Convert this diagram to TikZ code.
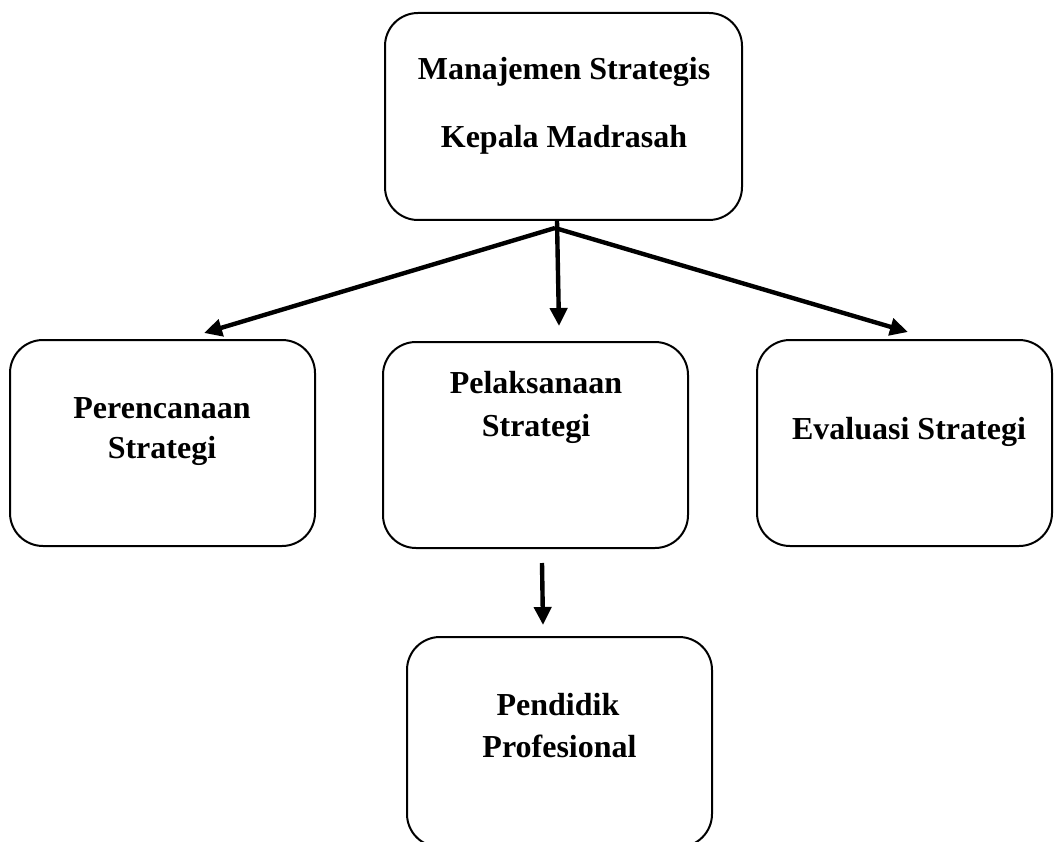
\documentclass[tikz,border=0pt]{standalone}
\usepackage{fontspec}
\setmainfont{Liberation Serif}
\usetikzlibrary{arrows.meta}
\begin{document}
\begin{tikzpicture}[x=1pt,y=-1pt,
  box/.style={draw, line width=2pt, rounded corners=33pt, inner sep=0pt},
  lbl/.style={font=\bfseries\fontsize{32}{38}\selectfont, inner sep=0pt, anchor=base},
  conn/.style={line width=4.4pt, -{Triangle[length=18pt,width=17pt]}}]
\useasboundingbox (0,0) rectangle (1054,842);
\clip (0,0) rectangle (1054,842);

% boxes
\node[box, minimum width=357pt, minimum height=207pt] (top)    at (563.5,116.5) {};
\node[box, minimum width=305pt, minimum height=206pt] (plan)   at (162.5,443)   {};
\node[box, minimum width=305pt, minimum height=206pt] (impl)   at (535.5,445)   {};
\node[box, minimum width=295pt, minimum height=206pt] (eval)   at (904.5,443)   {};
\node[box, minimum width=305pt, minimum height=210pt] (teach)  at (559.5,742)   {};

% labels
\node[lbl] (top1)   at (564,80)    {Manajemen Strategis};
\node[lbl] (top2)   at (564,148)   {Kepala Madrasah};
\node[lbl] (plan1)  at (162,418)   {Perencanaan};
\node[lbl] (plan2)  at (162,458)   {Strategi};
\node[lbl] (impl1)  at (536,393)   {Pelaksanaan};
\node[lbl] (impl2)  at (536,436)   {Strategi};
\node[lbl] (eval1)  at (909,439)   {Evaluasi Strategi};
\node[lbl] (teach1) at (558,715)   {Pendidik};
\node[lbl] (teach2) at (559.5,757) {Profesional};

% connector end points
\coordinate (hub)    at ([xshift=-8.5pt,yshift=-7pt]top.south);
\coordinate (stem)   at ([xshift=-6.5pt]top.south);
\coordinate (tipL)   at ([xshift=41.5pt,yshift=6pt]plan.north);
\coordinate (tipM)   at ([xshift=23.5pt,yshift=15pt]impl.north);
\coordinate (tipR)   at ([xshift=3.5pt,yshift=7pt]eval.north);
\coordinate (from)   at ([xshift=6.5pt,yshift=-14pt]impl.south);
\coordinate (tipB)   at ([xshift=-16.5pt,yshift=11pt]teach.north);

% connectors
\draw[conn] (hub) -- (tipL);
\draw[conn] (stem) -- (tipM);
\draw[conn] (hub) -- (tipR);
\draw[conn] (from) -- (tipB);
\end{tikzpicture}
\end{document}
